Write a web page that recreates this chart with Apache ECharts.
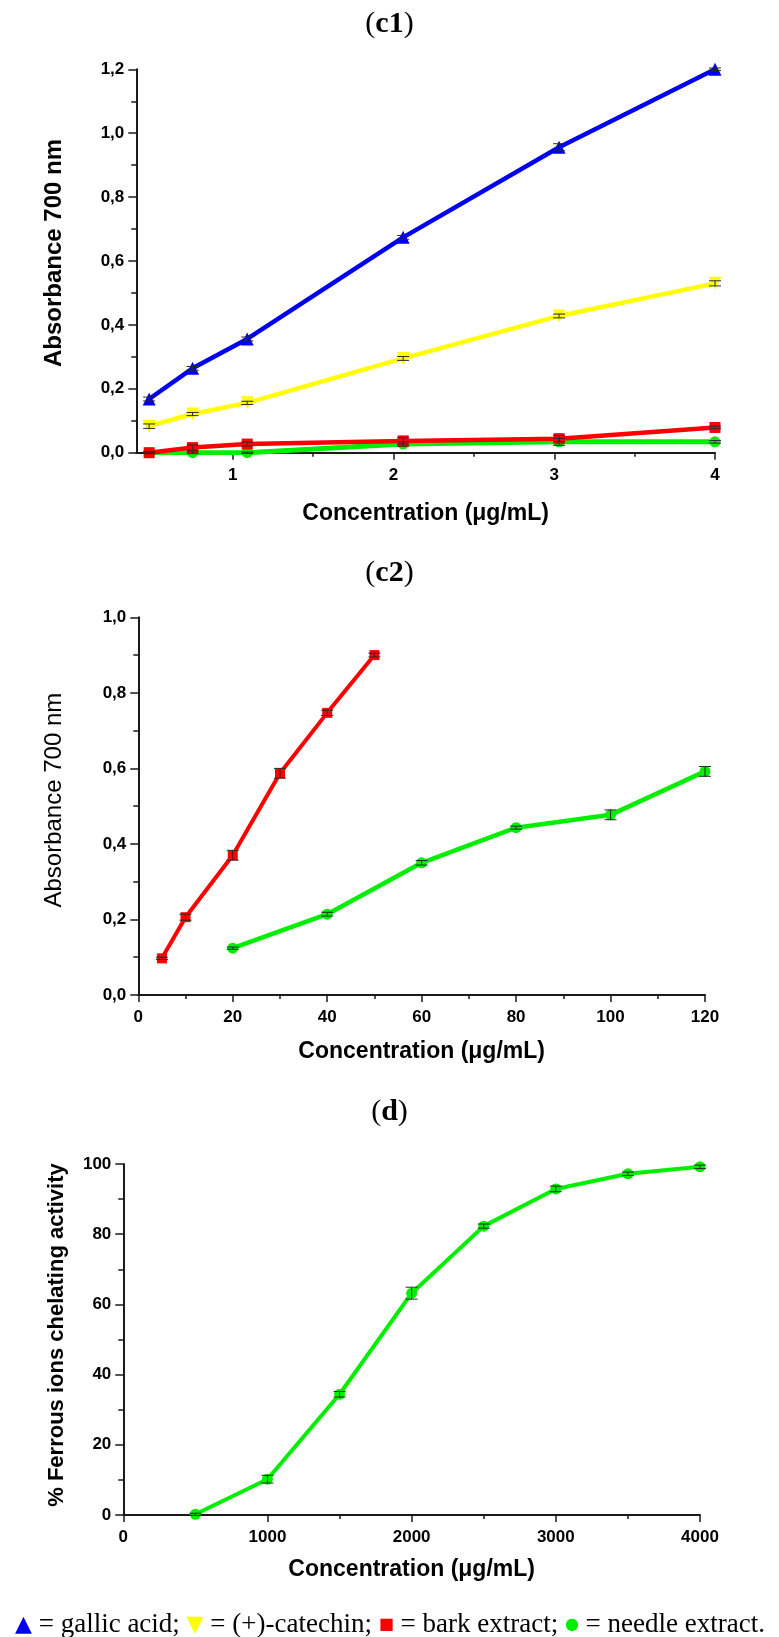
<!DOCTYPE html>
<html>
<head>
<meta charset="utf-8">
<script src="https://cdn.jsdelivr.net/npm/echarts@6/dist/echarts.min.js"></script>
<style>html,body{margin:0;padding:0;background:#fff}#main{width:779px;height:1637px}</style>
</head>
<body>
<div id="main"></div>
<script>
// ---------- DATA ----------
// (c1)
const c1X = [0.48, 0.75, 1.09, 2.06, 3.03, 4.0];
const c1Gallic = [0.168, 0.264, 0.356, 0.674, 0.956, 1.200];
const c1GallicErr = [0.006, 0.006, 0.006, 0.006, 0.011, 0.004];
const c1Catechin = [0.083, 0.121, 0.156, 0.295, 0.428, 0.530];
const c1CatechinErr = [0.007, 0.005, 0.005, 0.006, 0.006, 0.008];
const c1Bark = [0.000, 0.016, 0.027, 0.037, 0.044, 0.079];
const c1BarkErr = [0.003, 0.008, 0.006, 0.010, 0.010, 0.004];
const c1Needle = [0.000, 0.000, 0.000, 0.027, 0.034, 0.034];
const c1NeedleErr = [0.002, 0.003, 0.002, 0.007, 0.011, 0.004];
const c1XTicks = [1, 2, 3, 4];
const c1XMinorTicks = [1.5, 2.5, 3.5];
const c1YLabels = ['0,0', '0,2', '0,4', '0,6', '0,8', '1,0', '1,2'];
// (c2)
const c2BarkX = [5, 10, 20, 30, 40, 50];
const c2Bark = [0.097, 0.206, 0.370, 0.587, 0.747, 0.900];
const c2BarkErr = [0.003, 0.008, 0.013, 0.013, 0.007, 0.005];
const c2NeedleX = [20, 40, 60, 80, 100, 120];
const c2Needle = [0.124, 0.214, 0.350, 0.443, 0.477, 0.592];
const c2NeedleErr = [0.003, 0.005, 0.006, 0.004, 0.013, 0.013];
const c2YLabels = ['0,0', '0,2', '0,4', '0,6', '0,8', '1,0'];
const c2XLabels = ['0', '20', '40', '60', '80', '100', '120'];
// (d)
const dX = [500, 1000, 1500, 2000, 2500, 3000, 3500, 4000];
const dNeedle = [0.2, 10.2, 34.4, 63.2, 82.3, 92.9, 97.2, 99.2];
const dNeedleErr = [0.3, 1.1, 0.8, 1.7, 0.6, 0.8, 0.5, 0.5];
const dYLabels = ['0', '20', '40', '60', '80', '100'];
const dXLabels = ['0', '1000', '2000', '3000', '4000'];

// ---------- STYLE ----------
const BLUE = '#0000f0', YELLOW = '#ffff00', RED = '#ff0000', GREEN = '#00ee00';
const SANS = '"Liberation Sans", Arial, Helvetica, sans-serif';
const SERIF = '"Liberation Serif", "Times New Roman", serif';
const SYM = '"DejaVu Sans", sans-serif';
const AX = '#1a1a1a';

const zip = (xs, ys) => xs.map((x, i) => [x, ys[i]]);
const zip3 = (xs, ys, es) => xs.map((x, i) => [x, ys[i], es[i]]);

function errRender(params, api) {
  const x = api.value(0), y = api.value(1), e = api.value(2);
  const t = api.coord([x, y + e]), b = api.coord([x, y - e]);
  const w = 6;
  const style = { stroke: '#2a2a2a', lineWidth: 1 };
  return {
    type: 'group',
    children: [
      { type: 'line', shape: { x1: t[0], y1: t[1], x2: b[0], y2: b[1] }, style },
      { type: 'line', shape: { x1: t[0] - w, y1: t[1], x2: t[0] + w, y2: t[1] }, style },
      { type: 'line', shape: { x1: b[0] - w, y1: b[1], x2: b[0] + w, y2: b[1] }, style }
    ]
  };
}

function lineSeries(name, xi, yi, data, color, symbol, size, width, rotate) {
  return {
    name, type: 'line', xAxisIndex: xi, yAxisIndex: yi, data,
    symbol, symbolSize: size, symbolRotate: rotate || 0, showAllSymbol: true,
    lineStyle: { color, width }, itemStyle: { color },
    emphasis: { disabled: true }, z: 3
  };
}
function errSeries(xi, yi, data) {
  return {
    type: 'custom', xAxisIndex: xi, yAxisIndex: yi, data,
    encode: { x: 0, y: 1 }, renderItem: errRender, z: 6, silent: true
  };
}

const tickLabel = { fontFamily: SANS, fontWeight: 'bold', fontSize: 17, color: '#000' };
const axisLine = { show: true, lineStyle: { color: AX, width: 2 } };

function yAxisBase(grid, min, max, interval, labels, name, bold, fs, gap, padTop) {
  return {
    type: 'value', gridIndex: grid, min, max, interval,
    axisLine, splitLine: { show: false },
    axisTick: { show: true, length: 8, lineStyle: { color: AX, width: 1.5 } },
    minorTick: { show: true, splitNumber: 2, length: 5, lineStyle: { color: AX, width: 1.5 } },
    axisLabel: Object.assign({ margin: 12, formatter: (v, i) => labels[i] }, tickLabel),
    name, nameLocation: 'middle', nameRotate: 90, nameGap: gap,
    nameTextStyle: { fontFamily: SANS, fontWeight: bold ? 'bold' : 'normal', fontSize: fs, color: '#000', padding: [0, 0, 0, padTop] }
  };
}
function xAxisName(gap) {
  return {
    name: 'Concentration (\u03bcg/mL)', nameLocation: 'middle', nameGap: gap,
    nameTextStyle: { fontFamily: SANS, fontWeight: 'bold', fontSize: 23, color: '#000' }
  };
}

const titleRich = {
  p: { fontFamily: SERIF, fontSize: 30, fill: '#000' },
  b: { fontFamily: SERIF, fontSize: 30, fontWeight: 'bold', fill: '#000' }
};

const option = {
  animation: false,
  backgroundColor: '#fff',
  grid: [
    { left: 136.3, top: 69.3, width: 578.7, height: 383.4, containLabel: false, outerBoundsMode: 'none' },
    { left: 138.3, top: 617.3, width: 566.7, height: 377.7, containLabel: false, outerBoundsMode: 'none' },
    { left: 123.3, top: 1164, width: 576.7, height: 351, containLabel: false, outerBoundsMode: 'none' }
  ],
  xAxis: [
    Object.assign({
      type: 'value', gridIndex: 0, min: 0.4, max: 4,
      axisLine, splitLine: { show: false },
      axisTick: { show: true, length: 7, customValues: c1XTicks, lineStyle: { color: AX, width: 1.5 } },
      axisLabel: Object.assign({ margin: 14, customValues: c1XTicks }, tickLabel)
    }, xAxisName(49)),
    {
      type: 'value', gridIndex: 0, min: 0.4, max: 4, position: 'bottom',
      axisLine: { show: false }, splitLine: { show: false },
      axisTick: { show: true, length: 4, customValues: c1XMinorTicks, lineStyle: { color: AX, width: 1.5 } },
      axisLabel: { show: false, customValues: c1XMinorTicks }
    },
    Object.assign({
      type: 'value', gridIndex: 1, min: 0, max: 120, interval: 20,
      axisLine, splitLine: { show: false },
      axisTick: { show: true, length: 7, lineStyle: { color: AX, width: 1.5 } },
      minorTick: { show: true, splitNumber: 2, length: 4, lineStyle: { color: AX, width: 1.5 } },
      axisLabel: Object.assign({ margin: 14, formatter: (v, i) => c2XLabels[i] }, tickLabel)
    }, xAxisName(45)),
    Object.assign({
      type: 'value', gridIndex: 2, min: 0, max: 4000, interval: 1000,
      axisLine, splitLine: { show: false },
      axisTick: { show: true, length: 7, lineStyle: { color: AX, width: 1.5 } },
      minorTick: { show: true, splitNumber: 2, length: 4, lineStyle: { color: AX, width: 1.5 } },
      axisLabel: Object.assign({ margin: 14, formatter: (v, i) => dXLabels[i] }, tickLabel)
    }, xAxisName(43))
  ],
  yAxis: [
    yAxisBase(0, 0, 1.2, 0.2, c1YLabels, 'Absorbance 700 nm', true, 24, 70, 16),
    yAxisBase(1, 0, 1.0, 0.2, c2YLabels, 'Absorbance 700 nm', false, 24, 72, 12),
    yAxisBase(2, 0, 100, 20, dYLabels, '% Ferrous ions chelating activity', true, 22, 55, 9)
  ],
  series: [
    // (c1)
    lineSeries('needle extract', 0, 0, zip(c1X, c1Needle), GREEN, 'circle', 11, 5),
    lineSeries('bark extract', 0, 0, zip(c1X, c1Bark), RED, 'rect', 11, 4.5),
    lineSeries('(+)-catechin', 0, 0, zip(c1X, c1Catechin), YELLOW, 'triangle', 13, 4.5, 180),
    lineSeries('gallic acid', 0, 0, zip(c1X, c1Gallic), BLUE, 'triangle', 13, 4.5),
    errSeries(0, 0, zip3(c1X, c1Needle, c1NeedleErr)),
    errSeries(0, 0, zip3(c1X, c1Bark, c1BarkErr)),
    errSeries(0, 0, zip3(c1X, c1Catechin, c1CatechinErr)),
    errSeries(0, 0, zip3(c1X, c1Gallic, c1GallicErr)),
    // (c2)
    lineSeries('bark extract', 2, 1, zip(c2BarkX, c2Bark), RED, 'rect', 10, 4),
    lineSeries('needle extract', 2, 1, zip(c2NeedleX, c2Needle), GREEN, 'circle', 11, 4.5),
    errSeries(2, 1, zip3(c2BarkX, c2Bark, c2BarkErr)),
    errSeries(2, 1, zip3(c2NeedleX, c2Needle, c2NeedleErr)),
    // (d)
    lineSeries('needle extract', 3, 2, zip(dX, dNeedle), GREEN, 'circle', 11, 4),
    errSeries(3, 2, zip3(dX, dNeedle, dNeedleErr))
  ],
  graphic: [
    { type: 'text', x: 389.5, y: 24, style: { text: '{p|(}{b|c1}{p|)}', align: 'center', verticalAlign: 'middle', rich: titleRich } },
    { type: 'text', x: 389.5, y: 573, style: { text: '{p|(}{b|c2}{p|)}', align: 'center', verticalAlign: 'middle', rich: titleRich } },
    { type: 'text', x: 389.5, y: 1112, style: { text: '{p|(}{b|d}{p|)}', align: 'center', verticalAlign: 'middle', rich: titleRich } },
    { type: 'text', x: 390, y: 1625, style: {
      text: '{bt|\u25B2}{t| = gallic acid; }{yt|\u25BC}{t| = (+)-catechin; }{rs|\u25A0}{t| = bark extract; }{gc|\u25CF}{t| = needle extract.}',
      align: 'center', verticalAlign: 'middle',
      rich: {
        t: { fontFamily: SERIF, fontSize: 27, fill: '#000' },
        bt: { fontFamily: SYM, fontSize: 22, fill: BLUE },
        yt: { fontFamily: SYM, fontSize: 22, fill: YELLOW },
        rs: { fontFamily: SYM, fontSize: 16, fill: RED },
        gc: { fontFamily: SYM, fontSize: 16, fill: GREEN }
      } } }
  ]
};

const chart = echarts.init(document.getElementById('main'), null, { width: 779, height: 1637 });
chart.setOption(option);
</script>
</body>
</html>
